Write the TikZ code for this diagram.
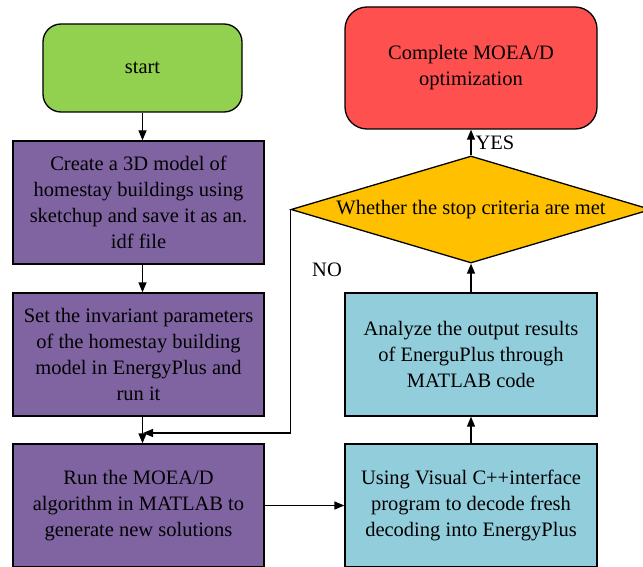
\documentclass[tikz,border=0pt]{standalone}
\usepackage{fontspec}
\setmainfont{Liberation Serif}
\usetikzlibrary{shapes.geometric,arrows.meta}
\definecolor{cgreen}{HTML}{92D050}
\definecolor{cpurple}{HTML}{8064A2}
\definecolor{cred}{HTML}{FF5050}
\definecolor{corange}{HTML}{FFC000}
\definecolor{cblue}{HTML}{92CDDC}
\tikzset{
  base/.style={draw=black, line width=1.3bp, align=center, inner sep=0pt,
    font=\fontsize{20.5bp}{26bp}\selectfont, text=black},
  rbox/.style={base, rectangle, rounded corners=18bp},
  pbox/.style={base, rectangle, fill=cpurple, minimum width=251bp, minimum height=123bp},
  bbox/.style={base, rectangle, fill=cblue, minimum width=252bp, minimum height=123bp},
  dia/.style={base, diamond, fill=corange, minimum width=360bp, minimum height=107bp},
  arr/.style={line width=1.3bp, -{Triangle[length=10bp,width=8bp]}},
  lbl/.style={font=\fontsize{20.5bp}{26bp}\selectfont, text=black, inner sep=0pt}
}
\begin{document}
\begin{tikzpicture}[x=1bp,y=-1bp]
\useasboundingbox (0,0) rectangle (643,567);
\node[rbox, fill=cgreen, minimum width=199bp, minimum height=88bp] (start) at (142.5,68) {start};
\node[pbox] (b1) at (138.5,202.5) {Create a 3D model of\\homestay buildings using\\sketchup and save it as an.\\idf file};
\node[pbox] (b2) at (138.5,354.5) {Set the invariant parameters\\of the homestay building\\model in EnergyPlus and\\run it};
\node[pbox] (b3) at (138.5,505.5) {Run the MOEA/D\\algorithm in MATLAB to\\generate new solutions};
\node[bbox] (b4) at (471,505.5) {Using Visual C++interface\\program to decode fresh\\decoding into EnergyPlus};
\node[bbox] (b5) at (471,354.5) {Analyze the output results\\of EnerguPlus through\\MATLAB code};
\node[dia, label={[lbl]center:Whether the stop criteria are met}] (d) at (471,209.5) {};
\node[rbox, fill=cred, rounded corners=22bp, minimum width=252bp, minimum height=122bp] (end) at (471,68) {Complete MOEA/D\\optimization};
\coordinate (j) at (143,433);
\draw[arr] (start) -- (start |- b1.north);
\draw[arr] (b1.south -| start) -- (b2.north -| start);
\draw[arr] (b2.south -| start) -- (b3.north -| start);
\draw[arr] (b3) -- (b4);
\draw[arr] (b4) -- (b5);
\draw[arr] (b5) -- (d);
\draw[arr] (d) -- node[lbl, right=4bp, pos=0.5] (yes) {YES} (end);
\draw[arr] (d.west) |- (j);
\node[lbl] (no) at (327,270) {NO};
\end{tikzpicture}
\end{document}
